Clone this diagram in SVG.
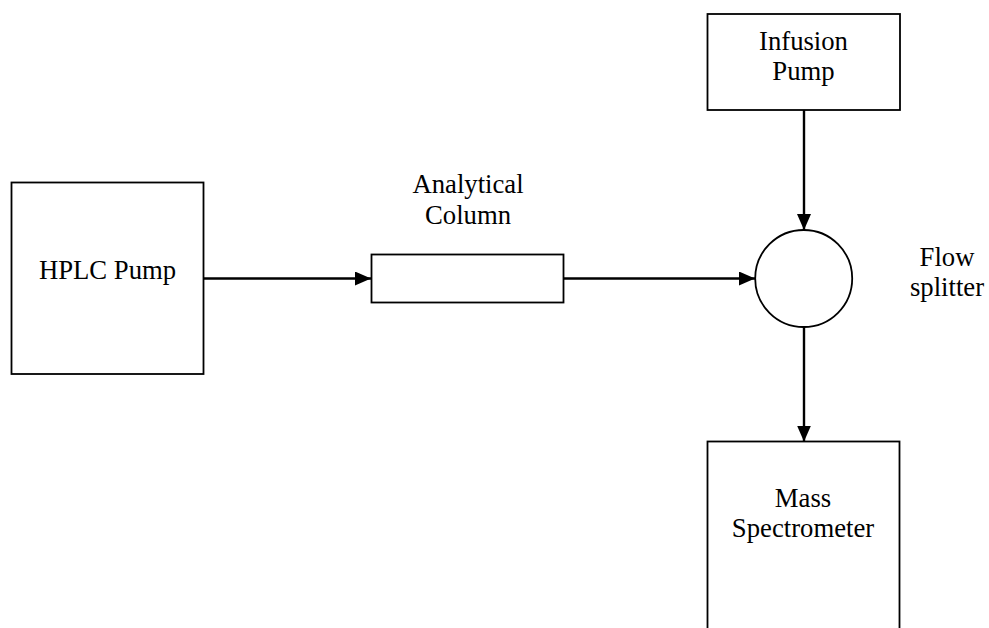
<svg xmlns="http://www.w3.org/2000/svg" width="989" height="628" viewBox="0 0 989 628">
<style>
.box{fill:#fff;stroke:#000;stroke-width:1.8}
.lbl{font-family:"Liberation Serif","Times New Roman",serif;font-size:26.7px;fill:#000;text-anchor:middle}
.conn{stroke:#000;stroke-width:2.4;fill:none}
</style>
<defs>
<marker id="ah" viewBox="0 0 16 14" refX="16" refY="7" markerWidth="16" markerHeight="14" markerUnits="userSpaceOnUse" orient="auto">
<path d="M0,0 L16,7 L0,14 Z" fill="#000"/>
</marker>
</defs>
<rect width="989" height="628" fill="#fff"/>
<g id="connectors">
<line class="conn" x1="203.5" y1="278.5" x2="371" y2="278.5" marker-end="url(#ah)"/>
<line class="conn" x1="563.5" y1="278.5" x2="755" y2="278.5" marker-end="url(#ah)"/>
<line class="conn" x1="804" y1="110" x2="804" y2="230" marker-end="url(#ah)"/>
<line class="conn" x1="804" y1="327" x2="804" y2="441.5" marker-end="url(#ah)"/>
</g>
<g id="hplc-pump">
<rect class="box" x="11.5" y="182.5" width="192" height="191.5"/>
<text class="lbl" x="107.5" y="279.3">HPLC Pump</text>
</g>
<g id="analytical-column">
<rect class="box" x="371.5" y="254.5" width="192" height="48"/>
<text class="lbl" x="468" y="192.7">Analytical</text>
<text class="lbl" x="468" y="223.5">Column</text>
</g>
<g id="infusion-pump">
<rect class="box" x="707.5" y="14" width="192.5" height="96"/>
<text class="lbl" x="803.5" y="50">Infusion</text>
<text class="lbl" x="803.5" y="80">Pump</text>
</g>
<g id="flow-splitter">
<circle class="box" cx="803.7" cy="278.5" r="48.5"/>
<text class="lbl" x="947" y="266">Flow</text>
<text class="lbl" x="947" y="296">splitter</text>
</g>
<g id="mass-spectrometer">
<rect class="box" x="707.5" y="441.5" width="192" height="200"/>
<text class="lbl" x="803" y="506.7">Mass</text>
<text class="lbl" x="803" y="536.7">Spectrometer</text>
</g>
</svg>
